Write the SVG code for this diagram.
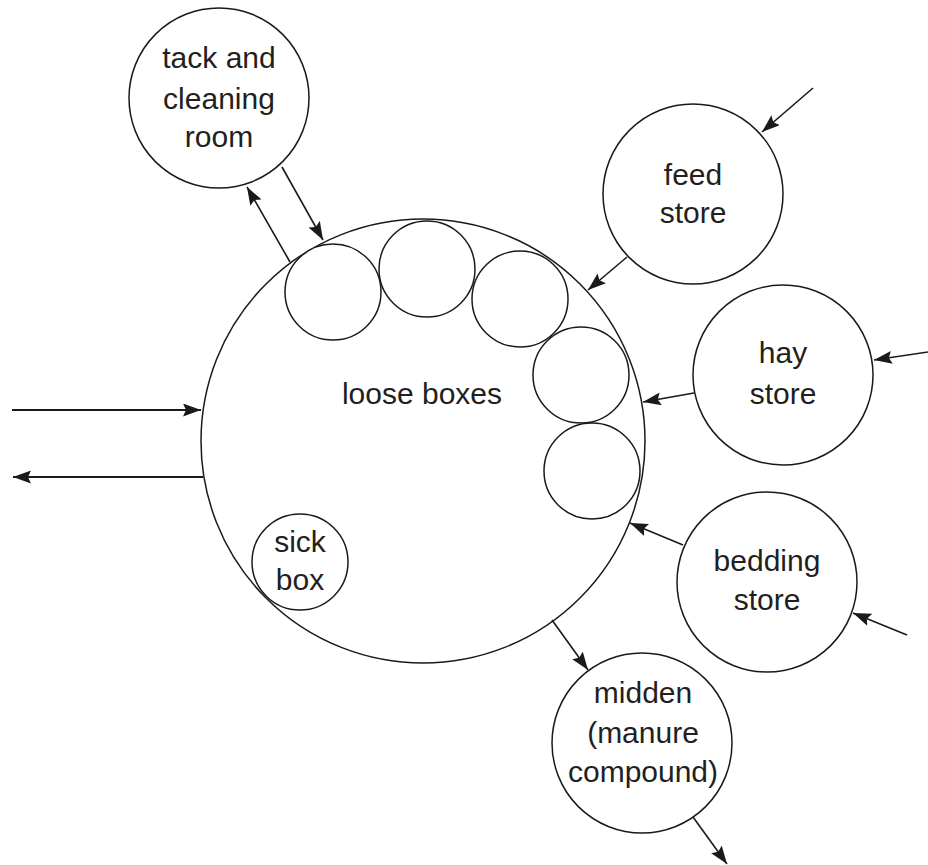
<svg xmlns="http://www.w3.org/2000/svg" width="928" height="865" viewBox="0 0 928 865">
  <style>
    .ring { fill: #ffffff; stroke: #1a1a1a; stroke-width: 1.5; }
    .lbl { font-family: "Liberation Sans", Arial, sans-serif; font-size: 30px; fill: #231f20; text-anchor: middle; }
    .flow { stroke: #1a1a1a; stroke-width: 1.6; fill: none; marker-end: url(#head); }
    .flow.thick { stroke-width: 2.2; }
  </style>
  <defs>
    <marker id="head" markerUnits="userSpaceOnUse" markerWidth="20" markerHeight="14" refX="18" refY="6.5" orient="auto">
      <path d="M0,0 L18,6.5 L0,13 L3,6.5 z" fill="#1a1a1a"/>
    </marker>
  </defs>
  <rect width="928" height="865" fill="#ffffff"/>

  <!-- stable building with individual loose boxes around its edge -->
  <g id="loose-boxes">
    <circle class="ring" cx="423" cy="441" r="222"/>
    <text class="lbl" x="422" y="404">loose boxes</text>
  </g>
  <g id="box-1"><circle class="ring" cx="333" cy="292" r="48"/></g>
  <g id="box-2"><circle class="ring" cx="427" cy="269" r="48"/></g>
  <g id="box-3"><circle class="ring" cx="520" cy="299" r="48"/></g>
  <g id="box-4"><circle class="ring" cx="581" cy="375" r="48"/></g>
  <g id="box-5"><circle class="ring" cx="592" cy="471" r="48"/></g>
  <g id="sick-box">
    <circle class="ring" cx="300" cy="562" r="48"/>
    <text class="lbl" x="300" y="552">sick</text>
    <text class="lbl" x="300" y="590">box</text>
  </g>

  <!-- surrounding facilities -->
  <g id="tack-room">
    <circle class="ring" cx="219" cy="98" r="90"/>
    <text class="lbl" x="219" y="68">tack and</text>
    <text class="lbl" x="219" y="109">cleaning</text>
    <text class="lbl" x="219" y="147">room</text>
  </g>
  <g id="feed-store">
    <circle class="ring" cx="693" cy="194" r="90"/>
    <text class="lbl" x="693" y="185">feed</text>
    <text class="lbl" x="693" y="223">store</text>
  </g>
  <g id="hay-store">
    <circle class="ring" cx="783" cy="375" r="90"/>
    <text class="lbl" x="783" y="363">hay</text>
    <text class="lbl" x="783" y="404">store</text>
  </g>
  <g id="bedding-store">
    <circle class="ring" cx="767" cy="582" r="90"/>
    <text class="lbl" x="767" y="571">bedding</text>
    <text class="lbl" x="767" y="610">store</text>
  </g>
  <g id="midden">
    <circle class="ring" cx="642" cy="743" r="90"/>
    <text class="lbl" x="643" y="703">midden</text>
    <text class="lbl" x="643" y="743">(manure</text>
    <text class="lbl" x="643" y="782">compound)</text>
  </g>

  <!-- movement between areas -->
  <g id="connectors">
    <line class="flow" x1="290" y1="262" x2="247" y2="187"/>
    <line class="flow" x1="282" y1="167" x2="323" y2="240"/>
    <line class="flow" x1="813" y1="88" x2="762" y2="132"/>
    <line class="flow" x1="627" y1="257" x2="588" y2="290"/>
    <line class="flow" x1="928" y1="352" x2="874" y2="360"/>
    <line class="flow" x1="694" y1="393" x2="643" y2="402"/>
    <line class="flow" x1="907" y1="635" x2="853" y2="613"/>
    <line class="flow" x1="683" y1="545" x2="630" y2="523"/>
    <line class="flow" x1="552" y1="620" x2="588" y2="670"/>
    <line class="flow" x1="693" y1="817" x2="727" y2="864"/>
    <line class="flow thick" x1="12" y1="410" x2="201" y2="410"/>
    <line class="flow thick" x1="203" y1="477" x2="13" y2="477"/>
  </g>
</svg>
